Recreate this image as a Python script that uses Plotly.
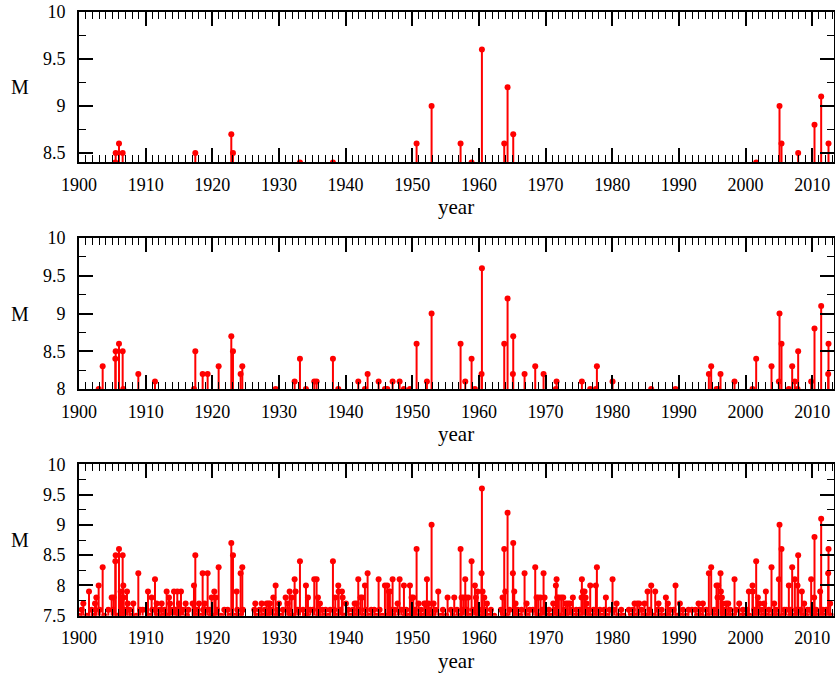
import plotly.graph_objects as go

# ---------------- data: earthquake catalogue (decimal year, magnitude) ----------------
# events with M >= 8.0
yr_8 = [1902.95, 1903.55, 1905.45, 1905.5, 1906.0, 1906.55, 1906.65, 1908.9, 1911.4,
        1917.25, 1917.45, 1918.55, 1919.3, 1920.95, 1922.85, 1923.1, 1924.25, 1924.5,
        1929.5, 1932.35, 1933.15, 1934.05, 1935.3, 1935.65, 1938.1, 1938.9, 1941.9,
        1942.9, 1943.3, 1944.95, 1945.9, 1946.25, 1947.05, 1948.1, 1948.75, 1949.65,
        1950.65, 1952.2, 1952.9, 1957.25, 1957.95, 1958.9, 1959.4, 1960.4, 1960.45,
        1963.8, 1964.3, 1965.1, 1965.15, 1966.85, 1968.45, 1969.7, 1971.55, 1971.65,
        1975.45, 1976.7, 1977.55, 1977.7, 1980.05, 1985.85, 1989.5, 1994.5, 1994.85,
        1995.65, 1995.9, 1996.25, 1998.35, 2001.05, 2001.6, 2003.9, 2005.0, 2005.1,
        2005.4, 2006.5, 2007.0, 2007.4, 2007.8, 2007.9, 2009.85, 2010.35, 2011.35,
        2012.4, 2012.45]
m_8 = [8.0, 8.3, 8.4, 8.5, 8.6, 8.5, 8.0, 8.2, 8.1,
       8.0, 8.5, 8.2, 8.2, 8.3, 8.7, 8.5, 8.2, 8.3,
       8.0, 8.1, 8.4, 8.0, 8.1, 8.1, 8.4, 8.0, 8.1,
       8.0, 8.2, 8.1, 8.0, 8.0, 8.1, 8.1, 8.0, 8.0,
       8.6, 8.1, 9.0, 8.6, 8.1, 8.4, 8.0, 8.2, 9.6,
       8.6, 9.2, 8.2, 8.7, 8.2, 8.3, 8.2, 8.0, 8.1,
       8.1, 8.0, 8.0, 8.3, 8.1, 8.0, 8.0, 8.2, 8.3,
       8.0, 8.0, 8.2, 8.1, 8.0, 8.4, 8.3, 8.1, 9.0,
       8.6, 8.0, 8.3, 8.1, 8.0, 8.5, 8.1, 8.8, 9.1,
       8.2, 8.6]

# events with 7.7 <= M <= 7.9
yr_77 = [1900.65, 1901.5, 1902.4, 1902.6, 1904.9, 1905.2, 1906.25, 1906.3, 1906.7,
         1907.2, 1907.3, 1908.15, 1910.35, 1910.9, 1911.65, 1912.4, 1913.15, 1913.5,
         1913.65, 1914.25, 1914.75, 1915.0, 1915.3, 1916.0, 1917.05, 1918.0, 1918.85,
         1919.9, 1920.3, 1920.5, 1923.65, 1926.45, 1927.4, 1928.15, 1928.4, 1928.65,
         1929.15, 1930.0, 1931.0, 1931.3, 1931.6, 1931.9, 1932.5, 1934.35, 1935.85,
         1936.15, 1938.45, 1938.95, 1939.45, 1939.55, 1940.05, 1941.35, 1941.65,
         1942.25, 1942.5, 1946.5, 1946.65, 1947.8, 1949.9, 1950.15, 1950.95, 1951.8,
         1952.05, 1952.45, 1953.2, 1953.9, 1955.3, 1956.3, 1957.4, 1957.7, 1958.05,
         1958.4, 1959.55, 1959.8, 1960.55, 1960.8, 1961.2, 1963.55, 1963.95, 1965.3,
         1965.5, 1967.15, 1968.65, 1968.9, 1969.25, 1969.85, 1971.15, 1971.75, 1972.0,
         1972.35, 1972.65, 1973.05, 1973.35, 1973.65, 1974.1, 1975.4, 1975.6, 1975.85,
         1976.0, 1976.15, 1979.05, 1980.65, 1983.35, 1983.75, 1984.05, 1984.85, 1985.3,
         1986.45, 1986.95, 1988.05, 1988.35, 1990.15, 1992.95, 1993.6, 1995.8, 1996.3,
         1996.45, 1996.6, 1997.1, 1997.4, 1999.05, 2000.5, 2001.1, 2001.85, 2002.1,
         2002.8, 2003.05, 2004.3, 2008.45, 2008.8, 2010.3, 2011.2, 2012.7]
m_77 = [7.7, 7.9, 7.7, 7.8, 7.8, 7.8, 7.9, 7.8, 7.8,
        7.9, 7.7, 7.7, 7.9, 7.8, 7.7, 7.7, 7.9, 7.8,
        7.7, 7.9, 7.9, 7.7, 7.9, 7.7, 7.7, 7.7, 7.7,
        7.8, 7.9, 7.8, 7.9, 7.7, 7.7, 7.7, 7.7, 7.7,
        7.8, 7.7, 7.8, 7.7, 7.9, 7.8, 7.9, 7.8, 7.8,
        7.7, 7.8, 7.9, 7.9, 7.8, 7.7, 7.7, 7.7,
        7.8, 7.8, 7.9, 7.9, 7.7, 7.8, 7.8, 7.7, 7.7,
        7.7, 7.7, 7.7, 7.9, 7.8, 7.8, 7.8, 7.8, 7.8,
        7.8, 7.8, 7.9, 7.9, 7.8, 7.7, 7.8, 7.9, 7.9,
        7.7, 7.7, 7.8, 7.8, 7.8, 7.8, 7.7, 7.8, 7.8,
        7.8, 7.8, 7.7, 7.7, 7.7, 7.8, 7.8, 7.9, 7.9,
        7.8, 7.7, 7.8, 7.7, 7.7, 7.7, 7.7, 7.7, 7.9,
        7.9, 7.7, 7.8, 7.7, 7.7, 7.7, 7.7, 7.8, 7.9,
        7.8, 7.7, 7.7, 7.7, 7.7, 7.9, 7.9, 7.8, 7.7,
        7.7, 7.9, 7.7, 7.9, 7.7, 7.8, 7.9, 7.7]

# events with M = 7.6
yr_76 = [1900.4, 1901.9, 1903.1, 1904.4, 1905.1, 1906.9, 1907.6, 1909.15, 1909.55,
         1910.1, 1911.0, 1912.1, 1912.8, 1913.9, 1914.5, 1915.6, 1916.4, 1917.8,
         1918.65, 1919.0, 1919.6, 1920.7, 1921.8, 1922.3, 1923.75, 1924.6, 1926.3,
         1927.1, 1927.9, 1928.9, 1929.8, 1930.6, 1931.4, 1932.8, 1933.6, 1934.7,
         1935.1, 1936.5, 1937.0, 1937.7, 1938.3, 1939.2, 1940.4, 1941.1, 1942.0,
         1943.0, 1943.85, 1944.3, 1945.1, 1946.8, 1947.4, 1948.4, 1949.1, 1950.4,
         1951.3, 1952.6, 1953.5, 1954.6, 1955.8, 1956.7, 1957.5, 1958.2, 1959.1,
         1960.1, 1960.95, 1961.8, 1963.3, 1964.6, 1965.8, 1966.4, 1967.6, 1968.1,
         1969.5, 1970.5, 1971.3, 1972.8, 1973.9, 1974.6, 1975.1, 1976.4, 1977.2,
         1978.15, 1978.8, 1979.6, 1980.3, 1981.35, 1982.5, 1983.1, 1984.4, 1985.6,
         1986.8, 1987.4, 1988.7, 1989.2, 1990.6, 1991.45, 1991.95, 1992.5, 1993.2,
         1994.1, 1995.3, 1996.9, 1997.7, 1998.6, 1999.6, 2000.2, 2001.3, 2002.4,
         2003.5, 2004.6, 2005.8, 2006.1, 2006.8, 2007.6, 2008.2, 2009.3, 2009.7,
         2010.6, 2011.6, 2012.1]

# events with M = 7.5
yr_75 = [1900.0, 1901.2, 1902.2, 1903.8, 1905.8, 1906.4, 1907.9, 1908.6, 1910.6,
         1911.8, 1912.6, 1913.3, 1914.9, 1916.2, 1917.6, 1918.3, 1919.8, 1920.1,
         1921.3, 1922.6, 1923.4, 1924.1, 1926.7, 1927.6, 1928.3, 1929.6, 1930.3,
         1931.8, 1932.1, 1933.9, 1934.2, 1935.9, 1936.8, 1937.4, 1938.6, 1939.8,
         1940.8, 1941.5, 1942.7, 1943.6, 1944.6, 1945.5, 1946.3, 1947.2, 1948.9,
         1949.4, 1950.2, 1951.1, 1951.6, 1952.4, 1953.1, 1954.3, 1955.1, 1956.1,
         1957.1, 1958.6, 1959.9, 1960.7, 1961.5, 1962.3, 1963.7, 1964.1, 1965.6,
         1966.2, 1967.3, 1968.8, 1969.1, 1970.3, 1970.9, 1971.9, 1972.2, 1973.1,
         1974.3, 1974.9, 1976.6, 1977.4, 1978.5, 1979.2, 1980.9, 1981.7, 1982.9,
         1983.6, 1984.7, 1985.2, 1986.2, 1987.1, 1987.8, 1988.5, 1989.8, 1990.3,
         1991.1, 1992.7, 1993.4, 1994.3, 1995.4, 1996.7, 1997.3, 1998.1, 1999.3,
         1999.9, 2000.6, 2001.4, 2002.6, 2003.2, 2004.1, 2004.8, 2005.6, 2006.7,
         2007.3, 2008.6, 2009.1, 2010.1, 2010.8, 2011.8, 2012.9]

thresholds = [8.4, 8.0, 7.5]          # lower magnitude cut of each panel
x_title = "year"
y_title = "M"

years = yr_8 + yr_77 + yr_76 + yr_75
mags = m_8 + m_77 + [7.6] * len(yr_76) + [7.5] * len(yr_75)

# ---------------- figure ----------------
W, H = 835, 676
left_px, right_px = 79, 833.5
panels_px = [(12, 162.4), (238, 389), (464.3, 615.7)]   # top, bottom in pixels
FAM = "Liberation Serif, Times New Roman, serif"
font = dict(family=FAM, size=18, color="black")

fig = go.Figure()
layout = dict(width=W, height=H, autosize=False, margin=dict(l=0, r=0, t=0, b=0, pad=0),
              paper_bgcolor="white", plot_bgcolor="white", showlegend=False,
              font=dict(family=FAM, color="black"), annotations=[])

for i, thr in enumerate(thresholds):
    sel = [(y, m) for y, m in zip(years, mags) if m >= thr - 1e-9]
    xs = [s[0] for s in sel]
    ms = [s[1] for s in sel]
    sfx = "" if i == 0 else str(i + 1)
    fig.add_trace(go.Scatter(
        x=xs, y=ms, mode="markers",
        marker=dict(color="#ff0000", size=6),
        error_y=dict(type="data", symmetric=False, array=[0] * len(ms),
                     arrayminus=[m - thr for m in ms],
                     color="#ff0000", thickness=2, width=0),
        xaxis="x" + sfx, yaxis="y" + sfx, hoverinfo="x+y"))

    top, bot = panels_px[i]
    dom_y = [1 - bot / H, 1 - top / H]
    layout["xaxis" + sfx] = dict(
        domain=[left_px / W, right_px / W], anchor="y" + sfx, automargin=False,
        range=[1900, 2013.2], tickmode="linear", tick0=1900, dtick=10,
        ticks="inside", ticklen=14, tickwidth=1.5, tickcolor="black",
        showline=True, linecolor="black", linewidth=2, mirror="ticks",
        showgrid=False, zeroline=False,
        minor=dict(tick0=1900, dtick=1, ticks="inside", ticklen=7,
                   tickwidth=1.2, tickcolor="black", showgrid=False),
        tickfont=font, ticklabelstandoff=5)
    layout["yaxis" + sfx] = dict(
        domain=dom_y, anchor="x" + sfx, automargin=False,
        range=[thr, 10], tickmode="linear", tick0=0, dtick=0.5,
        ticks="inside", ticklen=14, tickwidth=1.5, tickcolor="black",
        showline=True, linecolor="black", linewidth=2, mirror="ticks",
        showgrid=False, zeroline=False,
        minor=dict(tick0=0, dtick=0.25, ticks="inside", ticklen=7,
                   tickwidth=1.2, tickcolor="black", showgrid=False),
        tickfont=font, ticklabelstandoff=8)
    layout["annotations"].append(dict(
        text=y_title, x=20 / W, y=1 - (top + bot) / 2 / H, xref="paper", yref="paper",
        showarrow=False, font=dict(family=FAM, size=20, color="black"),
        xanchor="center", yanchor="middle"))
    layout["annotations"].append(dict(
        text=x_title, x=(left_px + right_px) / 2 / W, y=1 - (bot + 45) / H,
        xref="paper", yref="paper", showarrow=False,
        font=dict(family=FAM, size=21, color="black"),
        xanchor="center", yanchor="middle"))

fig.update_layout(**layout)
fig.write_html("out.html", config={"displayModeBar": False})

# remove the browser's default page margin so the figure sits at the window's corner
with open("out.html", "r", encoding="utf-8") as f:
    html = f.read()
html = html.replace("<head>", "<head><style>html,body{margin:0;padding:0;overflow:hidden;}</style>", 1)
with open("out.html", "w", encoding="utf-8") as f:
    f.write(html)
